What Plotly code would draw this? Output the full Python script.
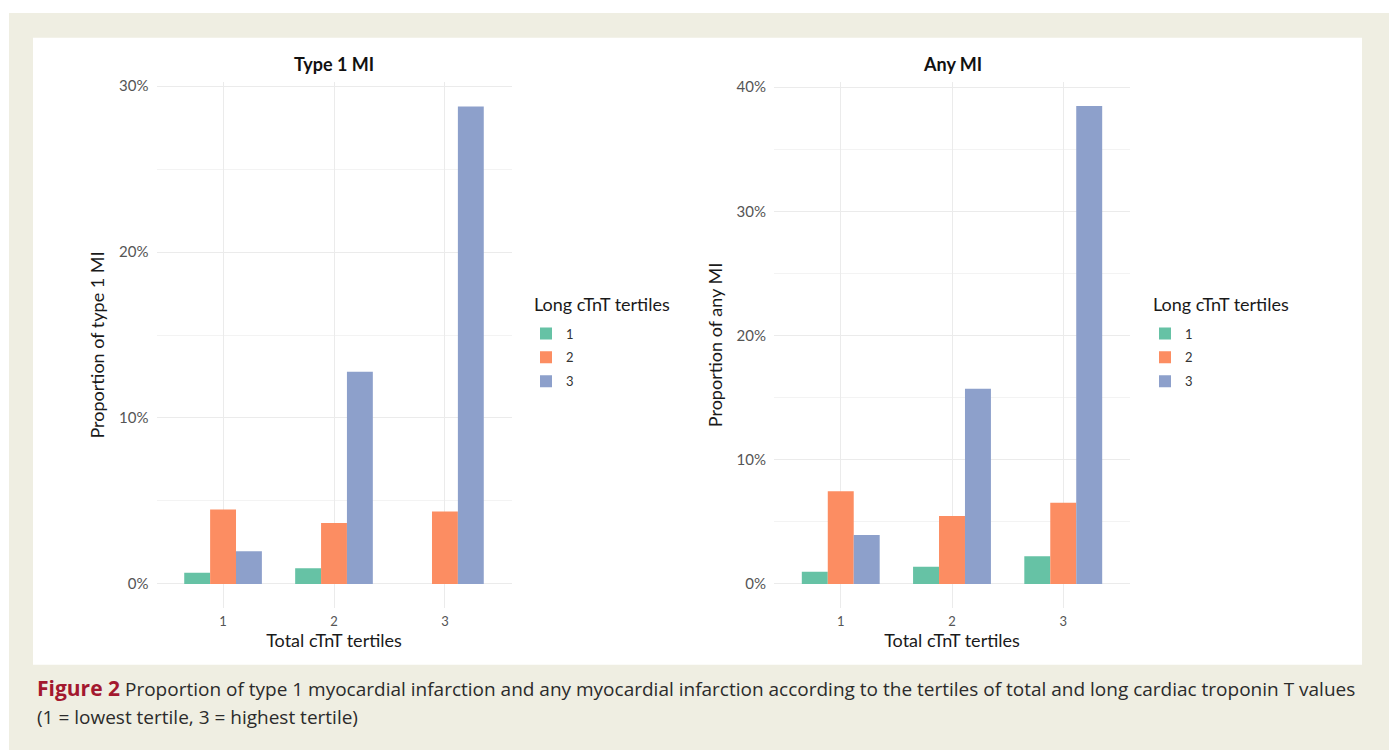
import plotly.graph_objects as go

# ---- data (percent) ----
total_tertiles = [1, 2, 3]
total_tick_labels = ["1", "2", "3"]
long_tertile_names = ["1", "2", "3"]
colors = ["#66C2A5", "#FC8D62", "#8DA0CB"]

type1_long1 = [0.68, 0.94, 0.0]
type1_long2 = [4.48, 3.67, 4.36]
type1_long3 = [1.97, 12.79, 28.77]

any_long1 = [0.99, 1.39, 2.24]
any_long2 = [7.47, 5.47, 6.54]
any_long3 = [3.95, 15.71, 38.48]

type1_series = [type1_long1, type1_long2, type1_long3]
any_series = [any_long1, any_long2, any_long3]

W, H = 1389, 750
def px(x): return x / W
def py(y): return min(1, 1 - y / H)

FONT = "Lato"
fig = go.Figure()

for i, (name, vals) in enumerate(zip(long_tertile_names, type1_series)):
    fig.add_trace(go.Bar(x=total_tertiles, y=vals, name=name, marker_color=colors[i],
                         marker_line_width=0, xaxis="x", yaxis="y", legend="legend",
                         legendgroup="a" + name))
for i, (name, vals) in enumerate(zip(long_tertile_names, any_series)):
    fig.add_trace(go.Bar(x=total_tertiles, y=vals, name=name, marker_color=colors[i],
                         marker_line_width=0, xaxis="x2", yaxis="y2", legend="legend2",
                         legendgroup="b" + name))

grid = "#EBEBEB"
minor_grid = "#F3F3F3"
tickfont = dict(family=FONT, size=15, color="#555555")
titlefont = dict(family=FONT, size=18, color="#1a1a1a")

def xaxis(domain, anchor):
    return dict(domain=domain, anchor=anchor, range=[0.4, 3.6], tickvals=total_tertiles,
                ticktext=total_tick_labels, showgrid=True, gridcolor=grid, gridwidth=1,
                zeroline=False, showline=False, ticks="",
                tickfont=dict(family=FONT, size=13, color="#555555"),
                ticklabelstandoff=4,
                title=dict(text="Total cTnT tertiles", font=titlefont, standoff=6))

def yaxis(domain, anchor, rng, title):
    return dict(domain=domain, anchor=anchor, range=rng, dtick=10, tick0=0, ticksuffix="%",
                showgrid=True, gridcolor=grid, gridwidth=1, zeroline=False, showline=False,
                ticks="", tickfont=tickfont, ticklabelstandoff=7,
                minor=dict(dtick=5, tick0=0, showgrid=True, gridcolor=minor_grid, gridwidth=1),
                title=dict(text=title, font=titlefont, standoff=9))

def legend(x):
    return dict(x=px(x), y=py(315), xanchor="left", yanchor="top",
                font=dict(family=FONT, size=13, color="#333333"), tracegroupgap=4,
                bgcolor="rgba(0,0,0,0)")

ydom = [py(606.7), py(76.7)]
fig.update_layout(
    width=W, height=H,
    margin=dict(l=0, r=0, t=0, b=0),
    paper_bgcolor="white", plot_bgcolor="white",
    barmode="group", bargap=0.3, bargroupgap=0,
    font=dict(family=FONT),
    xaxis=xaxis([px(156.5), px(511.5)], "y"),
    yaxis=yaxis(ydom, "x", [-1.44, 30.24], "Proportion of type 1 MI"),
    xaxis2=xaxis([px(774), px(1130)], "y2"),
    yaxis2=yaxis(ydom, "x2", [-1.92, 40.4], "Proportion of any MI"),
    legend=legend(526),
    legend2=legend(1145),
    shapes=[
        dict(type="rect", xref="paper", yref="paper", x0=px(9), x1=1, y0=0, y1=py(7),
             fillcolor="#EFEEE2", line_width=0, layer="below"),
        dict(type="rect", xref="paper", yref="paper", x0=px(33), x1=px(1362), y0=py(664), y1=py(32),
             fillcolor="white", line_width=0, layer="below"),
    ],
    annotations=[
        dict(text="<b>Type 1 MI</b>", x=px(334), y=py(58), xref="paper", yref="paper",
             xanchor="center", yanchor="middle",
             showarrow=False, font=dict(family=FONT, size=18, color="#111111")),
        dict(text="<b>Any MI</b>", x=px(952), y=py(58), xref="paper", yref="paper",
             xanchor="center", yanchor="middle",
             showarrow=False, font=dict(family=FONT, size=18, color="#111111")),
        dict(text="Long cTnT tertiles", x=px(532), y=py(300), xref="paper", yref="paper",
             xanchor="left", yanchor="middle",
             showarrow=False, font=dict(family=FONT, size=18, color="#1a1a1a")),
        dict(text="Long cTnT tertiles", x=px(1151), y=py(300), xref="paper", yref="paper",
             xanchor="left", yanchor="middle",
             showarrow=False, font=dict(family=FONT, size=18, color="#1a1a1a")),
        dict(text="<b><span style='color:#A3182F;font-size:21px'>Figure 2</span></b> Proportion of type 1 myocardial infarction and any myocardial infarction according to the tertiles of total and long cardiac troponin T values",
             x=px(35), y=py(688), xref="paper", yref="paper", xanchor="left", yanchor="middle",
             showarrow=False, font=dict(family="Open Sans", size=19, color="#2b2b2b")),
        dict(text="(1 = lowest tertile, 3 = highest tertile)",
             x=px(35), y=py(717), xref="paper", yref="paper", xanchor="left", yanchor="middle",
             showarrow=False, font=dict(family="Open Sans", size=19, color="#2b2b2b")),
    ],
)

fig.write_html("out.html", config={"displayModeBar": False},
               post_script="document.body.style.margin='0';")
